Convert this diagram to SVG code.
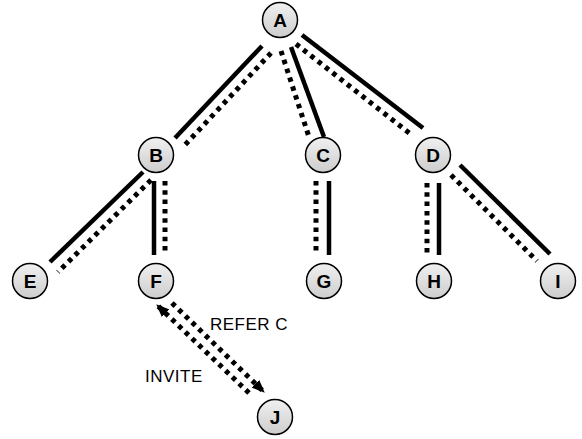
<svg xmlns="http://www.w3.org/2000/svg" width="582" height="439" viewBox="0 0 582 439">
  <style>
    .solid { stroke: #000; stroke-width: 4.5; fill: none; }
    .dots { stroke: #000; stroke-width: 5; fill: none; stroke-dasharray: 4.5 4.8; }
    .node circle { fill: url(#shade); stroke: #000; stroke-width: 1.5; }
    .node text { font-family: "Liberation Sans", Arial, sans-serif; font-size: 19px; font-weight: bold; text-anchor: middle; fill: #000; }
    .label { font-family: "Liberation Sans", Arial, sans-serif; font-size: 17px; letter-spacing: 0.5px; fill: #000; }
  </style>
  <defs>
    <linearGradient id="shade" x1="0" y1="0" x2="0" y2="1">
      <stop offset="0" stop-color="#f0f0f0"/>
      <stop offset="1" stop-color="#cdcdcd"/>
    </linearGradient>
    <marker id="head" viewBox="0 0 12 10" refX="11" refY="5" markerWidth="13" markerHeight="11" markerUnits="userSpaceOnUse" orient="auto">
      <path d="M0,0 L12,5 L0,10 Z" fill="#000"/>
    </marker>
  </defs>

  <rect width="582" height="439" fill="#fff"/>

  <!-- connectors: each tree edge is a solid line paired with a dotted one -->
  <g id="connectors">
    <!-- A - B -->
    <line class="solid" x1="262" y1="46" x2="175" y2="138"/>
    <line class="dots" x1="271" y1="53" x2="184" y2="146"/>
    <!-- A - C -->
    <line class="dots" x1="281" y1="51" x2="309" y2="137"/>
    <line class="solid" x1="291" y1="47" x2="324" y2="137"/>
    <!-- A - D -->
    <line class="solid" x1="302" y1="35" x2="423" y2="128"/>
    <line class="dots" x1="296" y1="44" x2="413" y2="136"/>
    <!-- B - E -->
    <line class="solid" x1="143" y1="172" x2="50" y2="262"/>
    <line class="dots" x1="151" y1="180" x2="58" y2="272"/>
    <!-- B - F -->
    <line class="solid" x1="154" y1="181" x2="154" y2="255"/>
    <line class="dots" x1="165" y1="181" x2="165" y2="255"/>
    <!-- C - G -->
    <line class="dots" x1="316" y1="181" x2="316" y2="255"/>
    <line class="solid" x1="329" y1="181" x2="329" y2="255"/>
    <!-- D - H -->
    <line class="dots" x1="427" y1="183" x2="427" y2="255"/>
    <line class="solid" x1="439" y1="183" x2="439" y2="255"/>
    <!-- D - I -->
    <line class="solid" x1="460" y1="165" x2="550" y2="254"/>
    <line class="dots" x1="451" y1="175" x2="537" y2="261"/>
    <!-- F <-> J message arrows -->
    <line class="dots" x1="249" y1="393" x2="157" y2="305" marker-end="url(#head)"/>
    <line class="dots" x1="172" y1="303" x2="264" y2="392" marker-end="url(#head)"/>
  </g>

  <text class="label" x="210" y="330">REFER C</text>
  <text class="label" x="145" y="382">INVITE</text>

  <g id="node-A" class="node"><circle cx="280" cy="20" r="17.5"/><text x="280" y="27">A</text></g>
  <g id="node-B" class="node"><circle cx="156" cy="155" r="17.5"/><text x="156" y="162">B</text></g>
  <g id="node-C" class="node"><circle cx="323" cy="155" r="17.5"/><text x="323" y="162">C</text></g>
  <g id="node-D" class="node"><circle cx="433" cy="155" r="17.5"/><text x="433" y="162">D</text></g>
  <g id="node-E" class="node"><circle cx="30" cy="281" r="17.5"/><text x="30" y="288">E</text></g>
  <g id="node-F" class="node"><circle cx="156" cy="281" r="17.5"/><text x="156" y="288">F</text></g>
  <g id="node-G" class="node"><circle cx="324" cy="281" r="17.5"/><text x="324" y="288">G</text></g>
  <g id="node-H" class="node"><circle cx="434" cy="281" r="17.5"/><text x="434" y="288">H</text></g>
  <g id="node-I" class="node"><circle cx="558" cy="281" r="17.5"/><text x="558" y="288">I</text></g>
  <g id="node-J" class="node"><circle cx="275" cy="417" r="17.5"/><text x="275" y="424">J</text></g>
</svg>
